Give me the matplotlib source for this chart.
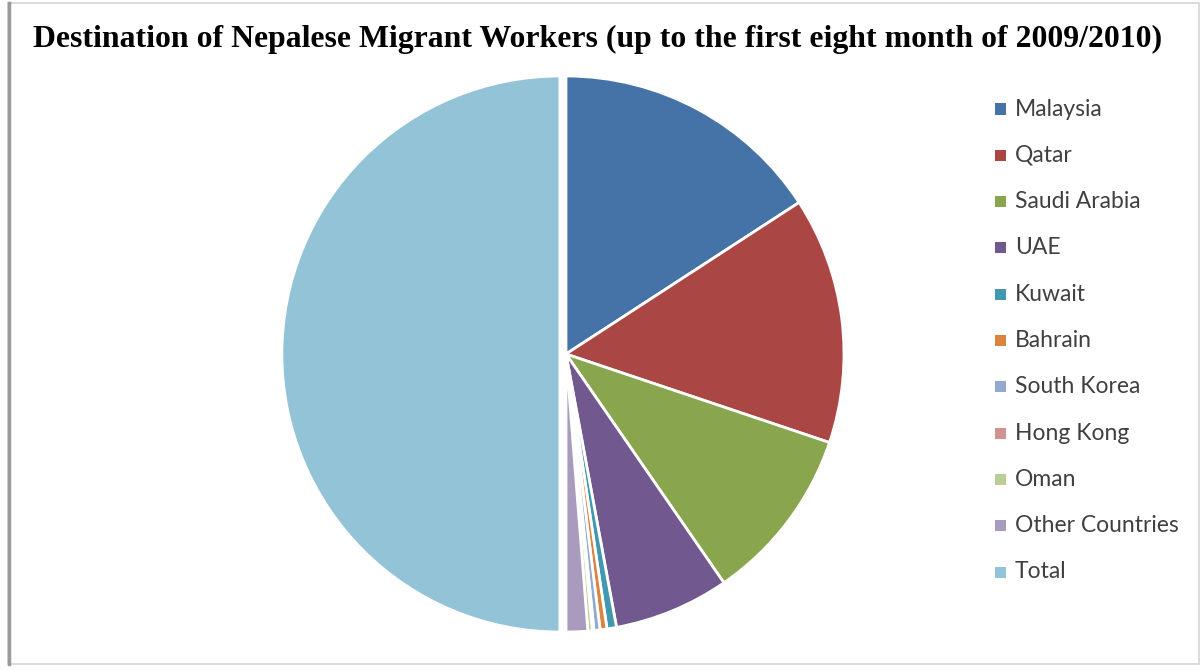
import matplotlib.pyplot as plt
from matplotlib.patches import Rectangle
from matplotlib.lines import Line2D

# destinations, first eight months of 2009/2010
countries = ["Malaysia", "Qatar", "Saudi Arabia", "UAE", "Kuwait", "Bahrain",
             "South Korea", "Hong Kong", "Oman", "Other Countries", "Total"]
workers = [61600, 55800, 39800, 26100, 2150, 1560, 1370, 390, 980, 4880, 194630]
colors = ["#4572A7", "#AA4643", "#89A54E", "#71588F", "#4198AF", "#DB843D",
          "#93A9CF", "#D19392", "#B9CD96", "#A99BBD", "#92C3D6"]
explode = [0] * 10 + [0.022]

W, H = 1204, 672
fig = plt.figure(figsize=(W / 100, H / 100), dpi=100)
fig.patch.set_facecolor("white")

# chart frame
fig.add_artist(Rectangle((8 / W, 8 / H), 1191 / W, 661 / H, transform=fig.transFigure,
                         fill=False, edgecolor="#d4d4d4", lw=1.2))
fig.add_artist(Line2D([8.5 / W, 8.5 / W], [8 / H, 669 / H], transform=fig.transFigure,
                      color="#9a9a9a", lw=2.5))

# pie axes: centre (566, 354) px, radius 278 px
r = 278
lim = 1.05
side = 2 * lim * r
cx, cy = 566, H - 354
ax = fig.add_axes([(cx - side / 2) / W, (cy - side / 2) / H, side / W, side / H])
ax.pie(workers, colors=colors, startangle=90, counterclock=False, explode=explode,
       wedgeprops=dict(edgecolor="white", linewidth=2))
ax.set_xlim(-lim, lim)
ax.set_ylim(-lim, lim)
ax.set_aspect("equal")
ax.axis("off")

fig.text(33 / W, 1 - 47 / H, "Destination of Nepalese Migrant Workers (up to the first eight month of 2009/2010)",
         family="Liberation Serif", fontweight="bold", fontsize=22.9, va="baseline", ha="left")

# legend column
y0, dy = 109, 46.3
for i, (name, c) in enumerate(zip(countries, colors)):
    y = H - (y0 + i * dy)
    fig.add_artist(Rectangle((995 / W, (y - 5.5) / H), 11 / W, 11 / H,
                             transform=fig.transFigure, facecolor=c, edgecolor="none"))
    fig.text(1015 / W, y / H, name, family="Lato", fontsize=16.5, color="#404040",
             va="center", ha="left")

fig.savefig("out.png", dpi=100)
